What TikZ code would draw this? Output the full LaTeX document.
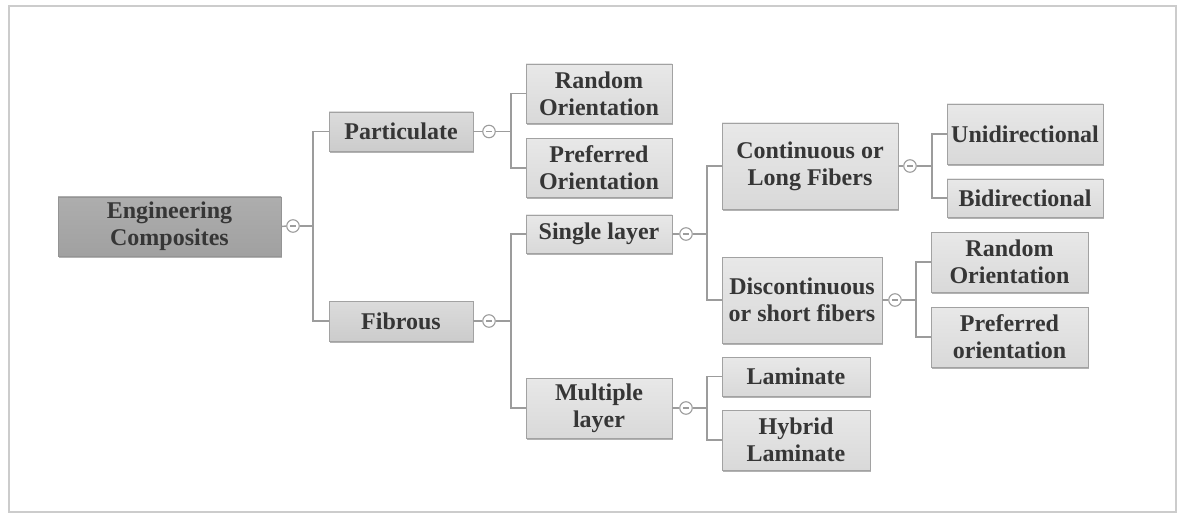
\documentclass[tikz,border=0pt]{standalone}
\usepackage{fontspec}
\setmainfont{Liberation Serif}
\usetikzlibrary{shadows}
\definecolor{txt}{HTML}{363636}
\definecolor{lineg}{HTML}{9C9C9C}
\definecolor{boxline}{HTML}{A2A2A2}
\begin{document}
\begin{tikzpicture}[x=1pt,y=-1pt,
  base/.style={draw=boxline, line width=0.9pt, align=center, inner sep=0pt,
    text=txt, font=\fontsize{24}{27}\selectfont\bfseries,
    drop shadow={shadow xshift=1.2pt, shadow yshift=-1.6pt, fill=black, opacity=0.3}},
  leaf/.style={base, top color=white!91!black, bottom color=white!85!black},
  mid/.style={base, top color=white!86!black, bottom color=white!80!black},
  rootbox/.style={base, top color=white!68!black, bottom color=white!63!black, draw=white!58!black},
  coll/.style={circle, draw=lineg, fill=white, line width=1.1pt, minimum size=12.5pt, inner sep=0pt,
    path picture={\draw[line width=1.1pt, lineg] ([xshift=-2.8pt]path picture bounding box.center) -- ([xshift=2.8pt]path picture bounding box.center);}},
  conn/.style={draw=lineg, line width=1.4pt}
]
\useasboundingbox (0,0) rectangle (1179,516);
\draw[draw=white!80!black, line width=1.6pt] (9,6) rectangle (1176,512);

% nodes
\node[rootbox, minimum width=223pt, minimum height=59pt] (root) at (169.5,226.5) {Engineering\\Composites};
\node[mid, minimum width=144pt, minimum height=39pt] (part) at (401,131.5) {Particulate};
\node[mid, minimum width=144pt, minimum height=40pt] (fib) at (401,321) {Fibrous};
\node[leaf, minimum width=146pt, minimum height=59pt] (ro1) at (599,93.5) {Random\\Orientation};
\node[leaf, minimum width=146pt, minimum height=59pt] (po1) at (599,168) {Preferred\\Orientation};
\node[leaf, minimum width=146pt, minimum height=38pt] (single) at (599,234) {Single layer};
\node[leaf, minimum width=146pt, minimum height=60pt] (multi) at (599,408) {Multiple\\layer};
\node[leaf, minimum width=176pt, minimum height=86pt] (cont) at (810,166) {Continuous or\\Long Fibers};
\node[leaf, minimum width=160pt, minimum height=86pt] (disc) at (802,300) {Discontinuous\\or short fibers};
\node[leaf, minimum width=156pt, minimum height=60pt] (uni) at (1025,134) {Unidirectional};
\node[leaf, minimum width=156pt, minimum height=38pt] (bi) at (1025,198) {Bidirectional};
\node[leaf, minimum width=157pt, minimum height=60pt] (ro2) at (1009.5,262) {Random\\Orientation};
\node[leaf, minimum width=157pt, minimum height=60pt] (po2) at (1009.5,337) {Preferred\\orientation};
\node[leaf, minimum width=148pt, minimum height=39pt] (lam) at (796,376.5) {Laminate};
\node[leaf, minimum width=148pt, minimum height=60pt] (hyb) at (796,440) {Hybrid\\Laminate};

% collapse markers
\node[coll] (c1) at (293,226) {};
\node[coll] (c2) at (489,131.5) {};
\node[coll] (c3) at (489,321) {};
\node[coll] (c4) at (686,234) {};
\node[coll] (c5) at (910,166) {};
\node[coll] (c6) at (895,300) {};
\node[coll] (c7) at (686,408) {};

% junctions
\coordinate (j1) at (313,226);
\coordinate (j2) at (511,131.5);
\coordinate (j3) at (511,321);
\coordinate (j4) at (707,234);
\coordinate (j5) at (932,166);
\coordinate (j6) at (916,300);
\coordinate (j7) at (707,408);

% connectors
\draw[conn] (root.east) -- (c1.west);
\draw[conn] (c1.east) -- (j1);
\draw[conn] (part.west) -| (j1);
\draw[conn] (fib.west) -| (j1);

\draw[conn] (part.east) -- (c2.west);
\draw[conn] (c2.east) -- (j2);
\draw[conn] (ro1.west) -| (j2);
\draw[conn] (po1.west) -| (j2);

\draw[conn] (fib.east) -- (c3.west);
\draw[conn] (c3.east) -- (j3);
\draw[conn] (single.west) -| (j3);
\draw[conn] (multi.west) -| (j3);

\draw[conn] (single.east) -- (c4.west);
\draw[conn] (c4.east) -- (j4);
\draw[conn] (cont.west) -| (j4);
\draw[conn] (disc.west) -| (j4);

\draw[conn] (cont.east) -- (c5.west);
\draw[conn] (c5.east) -- (j5);
\draw[conn] (uni.west) -| (j5);
\draw[conn] (bi.west) -| (j5);

\draw[conn] (disc.east) -- (c6.west);
\draw[conn] (c6.east) -- (j6);
\draw[conn] (ro2.west) -| (j6);
\draw[conn] (po2.west) -| (j6);

\draw[conn] (multi.east) -- (c7.west);
\draw[conn] (c7.east) -- (j7);
\draw[conn] (lam.west) -| (j7);
\draw[conn] (hyb.west) -| (j7);
\end{tikzpicture}
\end{document}
